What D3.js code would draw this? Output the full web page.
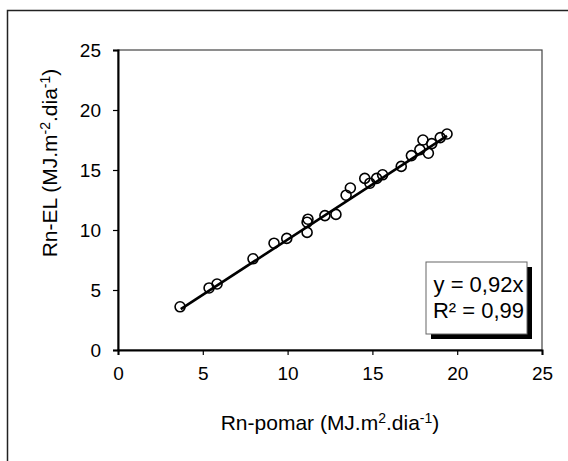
<!DOCTYPE html>
<html><head><meta charset="utf-8">
<script src="https://cdn.jsdelivr.net/npm/d3@7"></script>
<style>body{margin:0;background:#fff}svg{display:block}</style></head>
<body>
<svg id="c" width="568" height="461"></svg>
<script>
const xValues = [3.66, 5.37, 5.84, 7.96, 9.2, 9.95, 11.2, 11.15, 11.15, 12.2, 12.85, 13.45, 13.7, 14.55, 14.85, 15.25, 15.6, 16.7, 17.3, 17.8, 17.98, 18.3, 18.5, 19.0, 19.4];
const yValues = [3.6, 5.17, 5.5, 7.6, 8.9, 9.3, 10.9, 10.65, 9.8, 11.2, 11.3, 12.9, 13.5, 14.3, 13.9, 14.3, 14.6, 15.3, 16.2, 16.7, 17.5, 16.4, 17.2, 17.7, 18.0];
const xTicks = [0, 5, 10, 15, 20, 25];
const yTicks = [0, 5, 10, 15, 20, 25];
const slope = 0.92;
const fitRange = [3.7, 19.4];
const eqLabel = "y = 0,92x";
const r2Label = "R² = 0,99";

const svg = d3.select("#c");
const FONT = "'Liberation Sans', Arial, sans-serif";
const m = {l: 118, r: 542, t: 50, b: 350};
const x = d3.scaleLinear().domain([0, 25]).range([m.l, m.r]);
const y = d3.scaleLinear().domain([0, 25]).range([m.b, m.t]);

// outer frame
svg.append("path").attr("d", "M7.5,470 V10.5 H580")
  .attr("fill", "none").attr("stroke", "#222").attr("stroke-width", 1.5);

// plot area border
svg.append("rect").attr("x", m.l).attr("y", m.t).attr("width", m.r - m.l).attr("height", m.b - m.t)
  .attr("fill", "none").attr("stroke", "#444").attr("stroke-width", 1.2);

// axes
const xAxis = svg.append("g").attr("transform", `translate(0,${m.b})`)
  .call(d3.axisBottom(x).tickValues(xTicks).tickSize(5).tickPadding(12).tickFormat(d3.format("d")));
const yAxis = svg.append("g").attr("transform", `translate(${m.l},0)`)
  .call(d3.axisLeft(y).tickValues(yTicks).tickSize(5).tickPadding(12).tickFormat(d3.format("d")));
[xAxis, yAxis].forEach(g => {
  g.select(".domain").attr("stroke", "#000").attr("stroke-width", 2);
  g.selectAll(".tick line").attr("stroke", "#000").attr("stroke-width", 1.2);
  g.selectAll("text").attr("font-family", FONT).attr("font-size", 19).attr("fill", "#000");
});

// fit line
svg.append("line")
  .attr("x1", x(fitRange[0])).attr("y1", y(slope * fitRange[0]))
  .attr("x2", x(fitRange[1])).attr("y2", y(slope * fitRange[1]))
  .attr("stroke", "#000").attr("stroke-width", 2.6);

// points
svg.append("g").selectAll("circle").data(xValues.map((v, i) => [v, yValues[i]]))
  .join("circle").attr("cx", d => x(d[0])).attr("cy", d => y(d[1])).attr("r", 5)
  .attr("fill", "none").attr("stroke", "#000").attr("stroke-width", 1.6);

// axis titles
const xt = svg.append("text").attr("x", 330).attr("y", 430).attr("text-anchor", "middle")
  .attr("font-family", FONT).attr("font-size", 21).attr("fill", "#000");
xt.append("tspan").text("Rn-pomar (MJ.m");
xt.append("tspan").attr("font-size", 14).attr("dy", -7).text("2");
xt.append("tspan").attr("dy", 7).text(".dia");
xt.append("tspan").attr("font-size", 14).attr("dy", -7).text("-1");
xt.append("tspan").attr("dy", 7).text(")");

const yt = svg.append("text").attr("transform", "translate(57,163) rotate(-90)").attr("text-anchor", "middle")
  .attr("font-family", FONT).attr("font-size", 21).attr("fill", "#000");
yt.append("tspan").text("Rn-EL (MJ.m");
yt.append("tspan").attr("font-size", 14).attr("dy", -7).text("-2");
yt.append("tspan").attr("dy", 7).text(".dia");
yt.append("tspan").attr("font-size", 14).attr("dy", -7).text("-1");
yt.append("tspan").attr("dy", 7).text(")");

// legend box with shadow
const lb = {x: 426, y: 262, w: 101, h: 72};
svg.append("rect").attr("x", lb.x + 5).attr("y", lb.y + 5).attr("width", lb.w).attr("height", lb.h).attr("fill", "#000");
svg.append("rect").attr("x", lb.x).attr("y", lb.y).attr("width", lb.w).attr("height", lb.h)
  .attr("fill", "#fff").attr("stroke", "#666").attr("stroke-width", 1);
svg.append("text").attr("x", lb.x + lb.w / 2 + 2).attr("y", 292).attr("text-anchor", "middle")
  .attr("font-family", FONT).attr("font-size", 22).attr("fill", "#000").text(eqLabel);
svg.append("text").attr("x", lb.x + lb.w / 2 + 2).attr("y", 318).attr("text-anchor", "middle")
  .attr("font-family", FONT).attr("font-size", 22).attr("fill", "#000").text(r2Label);
</script>
</body></html>
